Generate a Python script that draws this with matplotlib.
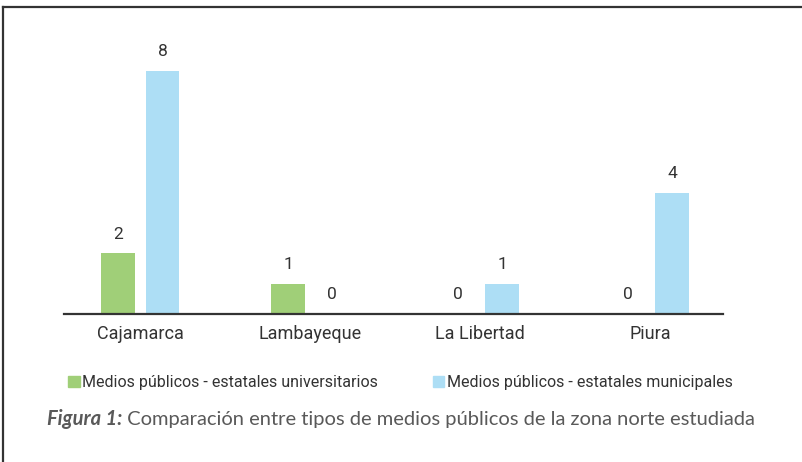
import matplotlib
matplotlib.use("Agg")
import matplotlib.pyplot as plt
import numpy as np
from matplotlib.lines import Line2D
from matplotlib.patches import Patch

categories = ["Cajamarca", "Lambayeque", "La Libertad", "Piura"]
universitarios = [2, 1, 0, 0]
municipales = [8, 0, 1, 4]
series_names = ["Medios públicos - estatales universitarios",
                "Medios públicos - estatales municipales"]
caption_bold = "Figura 1:"
caption_rest = " Comparación entre tipos de medios públicos de la zona norte estudiada"

green = "#A0CF78"
blue = "#ADDEF5"
W, H = 803, 462
fig = plt.figure(figsize=(W / 100, H / 100), dpi=100)
fig.patch.set_facecolor("white")

ax = fig.add_axes([64 / W, 1 - 314 / H, (723 - 64) / W, 243 / H])
x = np.arange(len(categories))
bw = 0.2
off = 0.13
b1 = ax.bar(x - off, universitarios, bw, color=green, zorder=2)
b2 = ax.bar(x + off, municipales, bw, color=blue, zorder=2)
for rects, vals in ((b1, universitarios), (b2, municipales)):
    for r, v in zip(rects, vals):
        ax.text(r.get_x() + r.get_width() / 2, v + 0.38, str(v), ha="center", va="bottom",
                fontsize=12.5, family="Roboto", color="#333333", clip_on=False)
ax.set_xlim(-0.45, 3.43)
ax.set_ylim(0, 8)
for s in ("top", "right", "left"):
    ax.spines[s].set_visible(False)
ax.spines["bottom"].set_color("#333333")
ax.spines["bottom"].set_linewidth(1.6)
ax.spines["bottom"].set_zorder(3)
ax.set_yticks([])
ax.set_xticks(x)
ax.set_xticklabels(categories, fontsize=13, family="Roboto", color="#333333")
ax.tick_params(axis="x", length=0, pad=8)

handles = [Patch(color=green), Patch(color=blue)]
ax.legend(handles, series_names, loc="upper left", bbox_to_anchor=(54 / W, 1 - 361 / H),
          bbox_transform=fig.transFigure, ncol=2, frameon=False, handlelength=0.7,
          handleheight=0.7, handletextpad=0.15, columnspacing=3.45,
          prop={"family": "Roboto", "size": 11.5}, labelcolor="#333333")

# frame lines (left and top)
fig.add_artist(Line2D([3.5 / W, 3.5 / W], [0, 1 - 6.5 / H], transform=fig.transFigure,
                      color="#333333", lw=1.6))
fig.add_artist(Line2D([3.5 / W, 1], [1 - 6.5 / H, 1 - 6.5 / H], transform=fig.transFigure,
                      color="#333333", lw=1.6))

def caption(size):
    t1 = fig.text(47 / W, 1 - 419 / H, caption_bold, fontsize=size, family="Lato",
                  weight="bold", style="italic", color="#595959", va="center")
    fig.canvas.draw()
    bb = t1.get_window_extent()
    t2 = fig.text(bb.x1 / W, 1 - 419 / H, caption_rest, fontsize=size, family="Lato",
                  color="#595959", va="center")
    fig.canvas.draw()
    return t1, t2

t1, t2 = caption(13)
width = t2.get_window_extent().x1 - t1.get_window_extent().x0
t1.remove(); t2.remove()
caption(13 * 709 / width)

fig.savefig("out.png", dpi=100, facecolor="white")
